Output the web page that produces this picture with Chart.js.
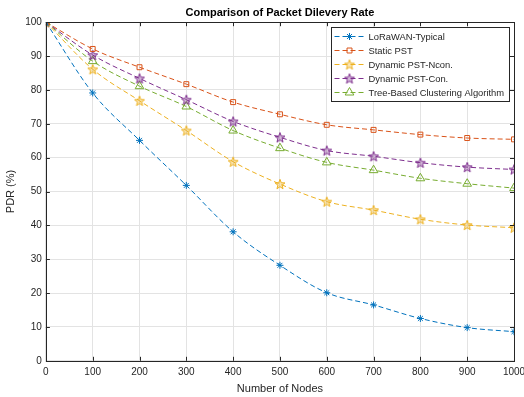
<!DOCTYPE html>
<html>
<head>
<meta charset="utf-8">
<script src="https://cdn.jsdelivr.net/npm/chart.js@4.4.1/dist/chart.umd.min.js"></script>
<style>
    html, body { margin: 0; padding: 0; background: #fff; }
</style>
</head>
<body>
<canvas id="pdrChart" width="524" height="397"></canvas>
<script>
// data
const nodes = [0, 100, 200, 300, 400, 500, 600, 700, 800, 900, 1000];
const loraTypical = [100, 79.1, 65.1, 51.8, 38.1, 28.2, 20.1, 16.5, 12.5, 9.8, 8.6];
const staticPst = [100, 92.1, 86.7, 81.7, 76.4, 72.8, 69.7, 68.2, 66.8, 65.8, 65.4];
const dynNcon = [100, 86.1, 76.8, 68.0, 58.8, 52.2, 47.0, 44.5, 41.8, 40.1, 39.3];
const dynCon = [100, 90.3, 83.4, 77.1, 70.7, 66.0, 62.1, 60.4, 58.5, 57.2, 56.5];
const treeBased = [100, 88.5, 81.1, 75.1, 68.0, 62.8, 58.6, 56.3, 53.9, 52.3, 51.0];
const seriesNames = ['LoRaWAN-Typical', 'Static PST', 'Dynamic PST-Ncon.', 'Dynamic PST-Con.', 'Tree-Based Clustering Algorithm'];
const yTicks = [0, 10, 20, 30, 40, 50, 60, 70, 80, 90, 100];
const xTicks = [0, 100, 200, 300, 400, 500, 600, 700, 800, 900, 1000];

const FONT = "'Liberation Sans', Arial, Helvetica, sans-serif";
const AXIS = '#262626';

// pentagram marker (chart.js has none)
function pentagram(color, r) {
    const c = document.createElement('canvas');
    const s = Math.ceil(r * 2 + 3);
    c.width = s; c.height = s;
    const g = c.getContext('2d');
    g.translate(s / 2, s / 2 + 0.5);
    g.beginPath();
    for (let i = 0; i < 10; i++) {
        const rad = i % 2 === 0 ? r : r * 0.42;
        const a = -Math.PI / 2 + i * Math.PI / 5;
        g.lineTo(rad * Math.cos(a), rad * Math.sin(a));
    }
    g.closePath();
    g.fillStyle = color + '55';
    g.fill();
    g.strokeStyle = color;
    g.lineWidth = 1;
    g.stroke();
    return c;
}

function mkSet(label, values, color, style, radius) {
    return {
        label: label,
        data: nodes.map((x, i) => ({ x: x, y: values[i] })),
        borderColor: color,
        backgroundColor: 'rgba(255,255,255,0)',
        borderWidth: 1,
        borderDash: [5, 3],
        pointStyle: style,
        pointRadius: radius,
        pointBorderColor: color,
        pointBorderWidth: 1,
        cubicInterpolationMode: 'monotone',
        fill: false
    };
}

const datasets = [
    mkSet(seriesNames[0], loraTypical, '#0072BD', 'star', 3.5),
    mkSet(seriesNames[1], staticPst, '#D95319', 'rect', 3.5),
    mkSet(seriesNames[2], dynNcon, '#EDB120', pentagram('#EDB120', 5.2), 5),
    mkSet(seriesNames[3], dynCon, '#7E2F8E', pentagram('#7E2F8E', 5.2), 5),
    mkSet(seriesNames[4], treeBased, '#77AC30', 'triangle', 5)
];

// box around axes, inward ticks and the inset legend
const matlabAxes = {
    id: 'matlabAxes',
    afterDatasetsDraw(chart) {
        const ctx = chart.ctx, a = chart.chartArea;
        const xs = chart.scales.x, ys = chart.scales.y;
        ctx.save();
        ctx.strokeStyle = AXIS;
        ctx.lineWidth = 1;
        ctx.setLineDash([]);
        ctx.beginPath();
        xTicks.forEach(v => {
            const px = Math.round(xs.getPixelForValue(v)) + 0.5;
            ctx.moveTo(px, a.bottom); ctx.lineTo(px, a.bottom - 4);
            ctx.moveTo(px, a.top); ctx.lineTo(px, a.top + 4);
        });
        yTicks.forEach(v => {
            const py = Math.round(ys.getPixelForValue(v)) + 0.5;
            ctx.moveTo(a.left, py); ctx.lineTo(a.left + 4, py);
            ctx.moveTo(a.right, py); ctx.lineTo(a.right - 4, py);
        });
        ctx.stroke();
        ctx.strokeRect(Math.round(a.left) + 0.5, Math.round(a.top) + 0.5,
            Math.round(a.right - a.left), Math.round(a.bottom - a.top));

        // legend
        ctx.font = '9.4px ' + FONT;
        const textW = Math.max(...chart.data.datasets.map(d => ctx.measureText(d.label).width));
        const w = Math.round(textW + 42), rowH = 14, h = rowH * datasets.length + 4;
        const lx = Math.round(a.right - 5 - w) + 0.5, ly = Math.round(a.top + 5) + 0.5;
        ctx.fillStyle = '#fff';
        ctx.fillRect(lx, ly, w, h);
        ctx.strokeRect(lx, ly, w, h);
        ctx.textBaseline = 'middle';
        chart.data.datasets.forEach((ds, i) => {
            const cy = ly + 2 + rowH * i + rowH / 2;
            ctx.strokeStyle = ds.borderColor;
            ctx.setLineDash([5, 3]);
            ctx.beginPath();
            ctx.moveTo(lx + 3, cy); ctx.lineTo(lx + 33, cy);
            ctx.stroke();
            ctx.setLineDash([]);
            ctx.fillStyle = 'rgba(255,255,255,0)';
            Chart.helpers.drawPoint(ctx, {
                pointStyle: ds.pointStyle, radius: ds.pointRadius, rotation: 0, borderWidth: 1
            }, lx + 18, cy);
            ctx.fillStyle = AXIS;
            ctx.fillText(ds.label, lx + 37, cy + 0.5);
        });
        ctx.restore();
    }
};

new Chart(document.getElementById('pdrChart'), {
    type: 'line',
    data: { datasets: datasets },
    options: {
        responsive: false,
        animation: false,
        layout: { padding: { left: 4, right: 0, top: 0, bottom: 0 } },
        plugins: {
            legend: { display: false },
            tooltip: { enabled: false },
            title: {
                display: true,
                fullSize: false,
                text: 'Comparison of Packet Dilevery Rate',
                color: '#000',
                font: { family: FONT, size: 11, weight: 'bold' },
                padding: { top: 6, bottom: 3 }
            }
        },
        scales: {
            x: {
                type: 'linear',
                min: 0, max: 1000,
                afterBuildTicks: s => { s.ticks = xTicks.map(v => ({ value: v })); },
                afterFit: s => { s.paddingRight = 10; },
                grid: { color: '#e3e3e3', drawTicks: false },
                border: { display: false },
                ticks: { color: AXIS, font: { family: FONT, size: 10 }, padding: 5, maxRotation: 0, callback: v => String(v) },
                title: { display: true, text: 'Number of Nodes', color: AXIS, font: { family: FONT, size: 11 }, padding: { top: 0, bottom: 1 } }
            },
            y: {
                min: 0, max: 100,
                afterBuildTicks: s => { s.ticks = yTicks.map(v => ({ value: v })); },
                grid: { color: '#e3e3e3', drawTicks: false },
                border: { display: false },
                ticks: { color: AXIS, font: { family: FONT, size: 10 }, padding: 4 },
                title: { display: true, text: 'PDR (%)', color: AXIS, font: { family: FONT, size: 11 }, padding: { top: 0, bottom: 4 } }
            }
        }
    },
    plugins: [matlabAxes]
});
</script>
</body>
</html>
